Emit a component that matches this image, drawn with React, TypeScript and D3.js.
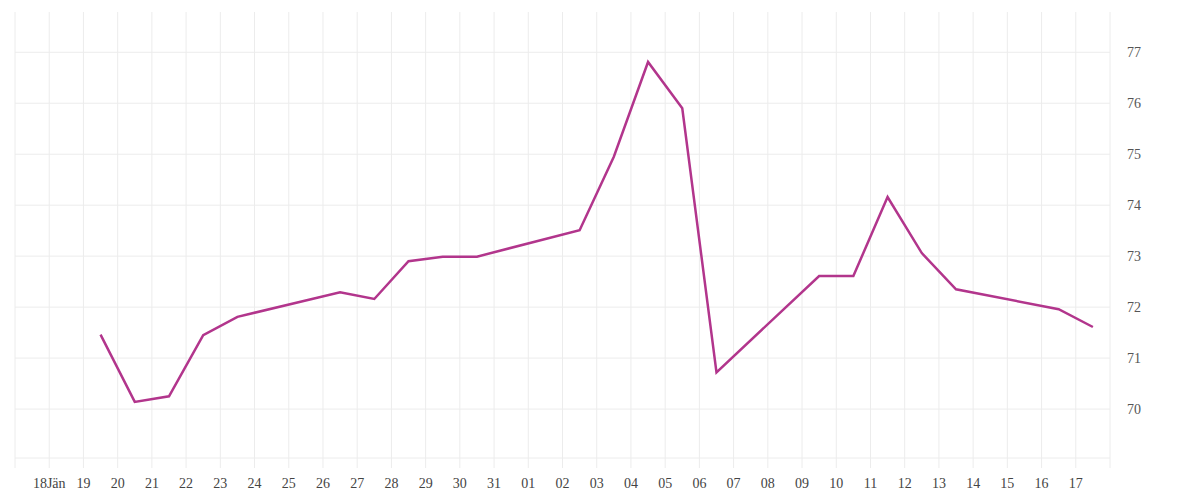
import { line, scaleLinear, scaleTime, timeDay } from "d3";

const W = 1200;
const H = 500;
const M = { top: 12, right: 90, bottom: 42, left: 15 };

// trading days (noon), Jan–Feb 2015
const dates = [
  "2015-01-19", "2015-01-20", "2015-01-21", "2015-01-22", "2015-01-23",
  "2015-01-26", "2015-01-27", "2015-01-28", "2015-01-29", "2015-01-30",
  "2015-02-02", "2015-02-03", "2015-02-04", "2015-02-05", "2015-02-06",
  "2015-02-09", "2015-02-10", "2015-02-11", "2015-02-12", "2015-02-13",
  "2015-02-16", "2015-02-17",
];
const values = [
  71.46, 70.14, 70.25, 71.45, 71.81,
  72.29, 72.16, 72.9, 72.99, 72.99,
  73.51, 74.95, 76.81, 75.9, 70.72,
  72.61, 72.61, 74.16, 73.06, 72.35,
  71.96, 71.61,
];

const xTickLabels = [
  "18Jän", "19", "20", "21", "22", "23", "24", "25", "26", "27", "28", "29", "30", "31",
  "01", "02", "03", "04", "05", "06", "07", "08", "09", "10", "11", "12", "13", "14", "15", "16", "17",
];
const yTicks = [70, 71, 72, 73, 74, 75, 76, 77];

const parse = (s: string, h = 0) => {
  const [y, m, d] = s.split("-").map(Number);
  return new Date(y, m - 1, d, h);
};

export default function App() {
  const x = scaleTime()
    .domain([parse("2015-01-17"), parse("2015-02-18")])
    .range([M.left, W - M.right]);
  const y = scaleLinear().domain([69.04, 77.79]).range([H - M.bottom, M.top]);

  const pts = dates.map((d, i) => ({ date: parse(d, 12), v: values[i] }));
  const path = line<{ date: Date; v: number }>()
    .x((d) => x(d.date))
    .y((d) => y(d.v));

  const gridDays = timeDay.range(parse("2015-01-17"), parse("2015-02-19"));
  const tickDays = timeDay.range(parse("2015-01-18"), parse("2015-02-18"));

  return (
    <>
      <style>{`body{margin:0}`}</style>
      <svg width={W} height={H} style={{ display: "block", background: "#fff" }}>
        {/* vertical grid, running a little past the plot bottom */}
        {gridDays.map((d) => (
          <line
            key={+d}
            x1={x(d)}
            x2={x(d)}
            y1={M.top}
            y2={H - M.bottom + 10}
            stroke="#ececec"
            strokeWidth={1}
          />
        ))}
        {yTicks.map((t) => (
          <g key={t}>
            <line x1={M.left} x2={W - M.right} y1={y(t)} y2={y(t)} stroke="#ececec" />
            <text
              x={W - M.right + 17}
              y={y(t)}
              dy="0.32em"
              fill="#555"
              fontSize={14}
              fontFamily="'Liberation Serif', serif"
            >
              {t}
            </text>
          </g>
        ))}
        <line x1={M.left} x2={W - M.right} y1={H - M.bottom} y2={H - M.bottom} stroke="#ececec" />

        {tickDays.map((d, i) => (
          <text
            key={+d}
            x={x(d)}
            y={488}
            textAnchor="middle"
            fill="#444"
            fontSize={14}
            fontFamily="'Liberation Serif', serif"
          >
            {xTickLabels[i]}
          </text>
        ))}

        <path
          d={path(pts) ?? undefined}
          fill="none"
          stroke="#b2358c"
          strokeWidth={2.5}
          strokeLinejoin="miter"
        />
      </svg>
    </>
  );
}
